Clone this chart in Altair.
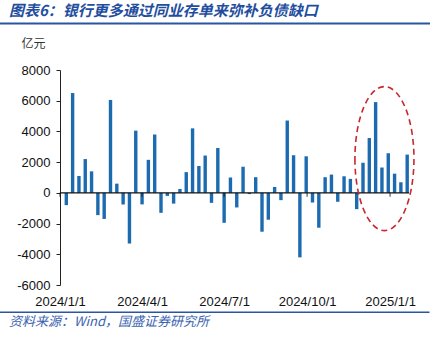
import altair as alt
import pandas as pd

# weekly net change (亿元)
values = [
    -800, 6500, 1100, 2200, 1400, -1450, -1700, 6050, 600, -750,
    -3300, 4050, -750, 2150, 3800, -1300, -200, -700, 250, 1350,
    4200, 1750, 2430, -650, 2920, -1950, 1000, -950, 1700, -80,
    1020, -2530, -1750, 380, -475, 4710, 2450, -4200, 2380, -630,
    -2270, 1020, 1190, -580, 1080, 910, -1060, 1960, 3570, 5910,
    1650, 2580, 1250, 690, 2490,
]
dates = [d.strftime("%Y-%m-%d") for d in pd.date_range("2024-01-08", periods=len(values), freq="7D")]
tick_dates = ["2024-01-01", "2024-04-01", "2024-07-01", "2024-10-01", "2025-01-01"]
y_ticks = [-6000, -4000, -2000, 0, 2000, 4000, 6000, 8000]

title_text = "图表6：银行更多通过同业存单来弥补负债缺口"
source_text = "资料来源：Wind，国盛证券研究所"
unit_text = "亿元"

df = pd.DataFrame({"date": dates, "value": values})
ticks_df = pd.DataFrame({"date": tick_dates})

# highlighted recent weeks
hl = df.iloc[46:]
hl_start = pd.Timestamp(hl["date"].iloc[0])
hl_end = pd.Timestamp(hl["date"].iloc[-1])
hl_center = (hl_start + (hl_end - hl_start) / 2).strftime("%Y-%m-%d")
hl_value = (hl["value"].max() + hl["value"].min()) / 2
ell_df = pd.DataFrame({"date": [hl_center], "value": [hl_value]})

BAR = "#1C6BB0"
NAVY = "#2A55A0"
NUMFONT = "Liberation Sans"
CJK = "Noto Sans CJK SC"

x_scale = alt.Scale(
    type="utc", nice=False, padding=0,
    domain=[alt.DateTime(year=2024, month=1, date=1, utc=True),
            alt.DateTime(year=2025, month=1, date=22, utc=True)],
)
y_scale = alt.Scale(domain=[-6000, 8000], nice=False, padding=0)

x_axis = alt.Axis(title=None, domain=False, ticks=False, grid=False,
                  values=[alt.DateTime(year=int(t[:4]), month=int(t[5:7]), date=1, utc=True) for t in tick_dates],
                  labelExpr="utcFormat(datum.value, '%Y/%-m/%-d')",
                  labelFont=NUMFONT, labelFontSize=13, labelColor="#111",
                  labelPadding=10, labelFlush=False, labelOverlap=False)
y_axis = alt.Axis(values=y_ticks, grid=False, domainColor="#222", tickColor="#222",
                  tickSize=4, labelPadding=6, labelFont=NUMFONT, labelFontSize=13,
                  labelColor="#111", labelOverlap=False, labelBound=False,
                  labelExpr="datum.value + ''",
                  title=unit_text, titleAngle=0, titleX=-39, titleY=-23,
                  titleAlign="left", titleBaseline="alphabetic",
                  titleFont=CJK, titleFontSize=12, titleFontWeight="normal",
                  titleColor="#333")

bars = alt.Chart(df).mark_bar(color=BAR, size=3.4).encode(
    x=alt.X("date:T", scale=x_scale, axis=x_axis, title=None),
    y=alt.Y("value:Q", scale=y_scale, axis=y_axis, title=unit_text),
)

zero = alt.Chart(alt.Data(values=[{}])).mark_rule(color="#111", strokeWidth=1.3).encode(
    y=alt.Y(datum=0, scale=y_scale, axis=y_axis, title=unit_text)
)

xticks = alt.Chart(ticks_df).mark_tick(color="#111", orient="vertical", size=4, thickness=1.2, yOffset=2).encode(
    x=alt.X("date:T", scale=x_scale, axis=x_axis, title=None),
    y=alt.Y(datum=0, scale=y_scale, axis=y_axis, title=unit_text),
)

ellipse = alt.Chart(ell_df).mark_point(
    shape="M -0.41 0 A 0.41 1 0 1 0 0.41 0 A 0.41 1 0 1 0 -0.41 0 Z",
    size=20736, filled=False, stroke="#C8282D", strokeWidth=1.6,
    strokeDash=[6, 4], opacity=1, xOffset=2.5, yOffset=3,
).encode(
    x=alt.X("date:T", scale=x_scale, axis=x_axis, title=None),
    y=alt.Y("value:Q", scale=y_scale, axis=y_axis, title=unit_text),
)

deco = alt.Data(values=[{}])
top_line = alt.Chart(deco).mark_rule(color=NAVY, strokeWidth=2).encode(
    x=alt.value(-60), x2=alt.value(370), y=alt.value(-46.5)
)
bottom_line = alt.Chart(deco).mark_rule(color=NAVY, strokeWidth=1.5).encode(
    x=alt.value(-60), x2=alt.value(369.5), y=alt.value(242.3)
)
title = alt.Chart(deco).mark_text(
    align="left", baseline="alphabetic", font=CJK, fontSize=15, fontWeight="bold",
    fontStyle="italic", color="#1F4E9E",
).encode(x=alt.value(-51), y=alt.value(-54), text=alt.value(title_text))
source = alt.Chart(deco).mark_text(
    align="left", baseline="alphabetic", font=CJK, fontSize=13, fontStyle="italic",
    color="#3B63B0",
).encode(x=alt.value(-51), y=alt.value(256), text=alt.value(source_text))

chart = alt.layer(bars, zero, xticks, ellipse, top_line, bottom_line, title, source).properties(
    width=349, height=215,
    autosize=alt.AutoSizeParams(type="none"),
    padding={"left": 60, "top": 70, "right": 30, "bottom": 54},
    background="white",
).configure_view(stroke=None)

chart.save("out.html", embed_options={"renderer": "svg", "actions": False})
